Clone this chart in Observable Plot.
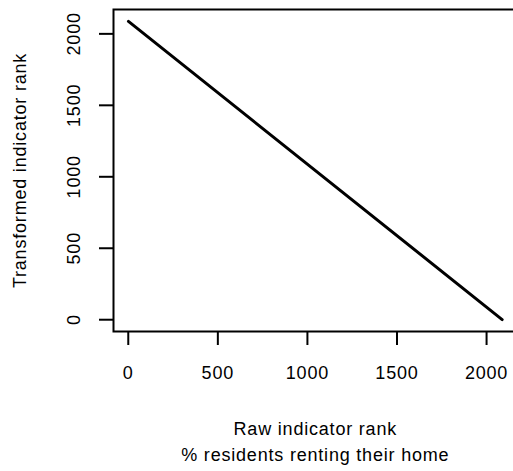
<!DOCTYPE html>
<html>
<head>
<meta charset="utf-8">
<script src="https://cdn.jsdelivr.net/npm/d3@7"></script>
<script src="https://cdn.jsdelivr.net/npm/@observablehq/plot@0.6"></script>
<style>
  html, body { margin: 0; padding: 0; background: #fff; overflow: hidden; }
  #wrap { width: 513px; height: 471px; overflow: hidden; }
</style>
</head>
<body>
<div id="wrap"></div>
<script>
// Data
const rawRank = [1, 2087];
const transformedRank = [2087, 1];
const xTicks = [0, 500, 1000, 1500, 2000];
const yTicks = [0, 500, 1000, 1500, 2000];
const xLabel = "Raw indicator rank\n% residents renting their home";
const yLabel = "Transformed indicator rank";

const rows = rawRank.map((r, i) => ({raw: r, transformed: transformedRank[i]}));

// R-style 4% axis extension
function padDomain(v) {
  const [a, b] = d3.extent(v);
  const p = (b - a) * 0.04;
  return [a - p, b + p];
}

const font = "'Liberation Sans', Arial, Helvetica, sans-serif";
const fs = 18;

const chart = Plot.plot({
  width: 520,
  height: 471,
  marginLeft: 113,
  marginRight: 3.4,
  marginTop: 9,
  marginBottom: 140,
  style: {fontFamily: font, fontSize: fs + "px", letterSpacing: "0.8px", color: "#000", background: "#fff", maxWidth: "none", overflow: "hidden"},
  x: {domain: padDomain(rawRank)},
  y: {domain: padDomain(transformedRank)},
  marks: [
    Plot.frame({stroke: "#000", strokeWidth: 2}),
    Plot.axisX({ticks: xTicks, tickSize: 14, tickPadding: 21, strokeWidth: 2, fontSize: fs, label: null, tickFormat: d => String(d)}),
    Plot.axisY({ticks: yTicks, tickSize: 14, tickPadding: 20, tickRotate: -90, strokeWidth: 2, fontSize: fs, label: null, tickFormat: d => String(d)}),
    Plot.line(rows, {x: "raw", y: "transformed", stroke: "#000", strokeWidth: 3}),
    Plot.text([xLabel], {text: d => d, frameAnchor: "bottom", lineAnchor: "top", dy: 85, lineHeight: 1.44, fontSize: fs, fill: "#000"}),
    Plot.text([yLabel], {text: d => d, frameAnchor: "left", rotate: -90, textAnchor: "middle", lineAnchor: "bottom", dx: -88, fontSize: fs, fill: "#000"})
  ]
});
document.getElementById("wrap").appendChild(chart);
</script>
</body>
</html>
